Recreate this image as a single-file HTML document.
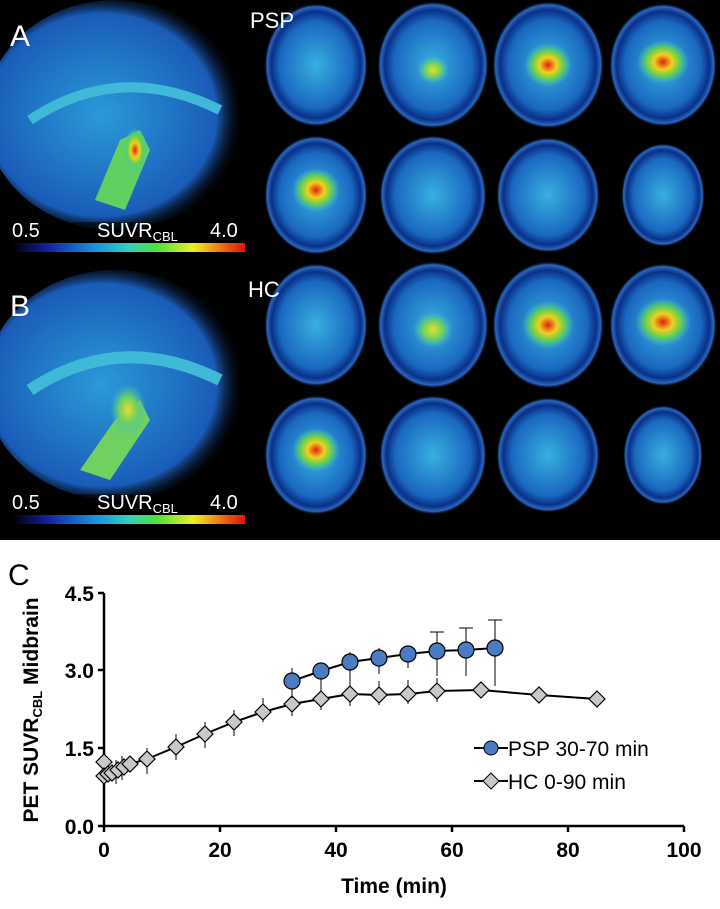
<!DOCTYPE html>
<html><head><meta charset="utf-8"><style>
html,body{margin:0;padding:0;background:#fff}
svg{display:block}
text{font-family:"Liberation Sans",Arial,sans-serif}
</style></head><body>
<svg width="720" height="909" viewBox="0 0 720 909" xmlns="http://www.w3.org/2000/svg">
<defs>
<linearGradient id="cb" x1="0" x2="1" y1="0" y2="0">
<stop offset="0" stop-color="#000"/><stop offset="0.15" stop-color="#1020a0"/><stop offset="0.35" stop-color="#1a8ee0"/><stop offset="0.5" stop-color="#30d0c0"/><stop offset="0.62" stop-color="#50e040"/><stop offset="0.78" stop-color="#f0f020"/><stop offset="0.9" stop-color="#f07010"/><stop offset="1" stop-color="#e01010"/>
</linearGradient>
<radialGradient id="ax" cx="0.5" cy="0.5" r="0.5">
<stop offset="0" stop-color="#38b0e0"/><stop offset="0.7" stop-color="#1a68c0"/><stop offset="0.86" stop-color="#0a3088"/><stop offset="0.94" stop-color="#2a68c0"/><stop offset="1" stop-color="#000" stop-opacity="0"/>
</radialGradient>
<radialGradient id="hot" cx="0.5" cy="0.5" r="0.5">
<stop offset="0" stop-color="#e02010"/><stop offset="0.35" stop-color="#f0d020"/><stop offset="0.65" stop-color="#60d050"/><stop offset="1" stop-color="#40c0d0" stop-opacity="0"/>
</radialGradient>
<radialGradient id="warm" cx="0.5" cy="0.5" r="0.5">
<stop offset="0" stop-color="#e0e030"/><stop offset="0.5" stop-color="#70d060"/><stop offset="1" stop-color="#40c0d0" stop-opacity="0"/>
</radialGradient>
<radialGradient id="sag" cx="0.45" cy="0.5" r="0.55">
<stop offset="0" stop-color="#2a9ad8"/><stop offset="0.8" stop-color="#1a5cb8"/><stop offset="1" stop-color="#000" stop-opacity="0"/>
</radialGradient>
</defs>
<rect x="0" y="0" width="720" height="540" fill="#000"/>
<!-- sagittal A -->
<ellipse cx="115" cy="115" rx="130" ry="115" fill="url(#sag)"/>
<path d="M95 200 L120 140 L140 130 L150 150 L125 210 Z" fill="#60d060"/>
<ellipse cx="135" cy="150" rx="12" ry="22" fill="url(#hot)"/>
<path d="M30 120 Q120 60 220 110" stroke="#40b8d8" stroke-width="10" fill="none"/>
<!-- sagittal B -->
<ellipse cx="115" cy="385" rx="130" ry="115" fill="url(#sag)"/>
<path d="M80 470 L115 420 L140 400 L150 420 L110 480 Z" fill="#70d060"/>
<ellipse cx="128" cy="410" rx="18" ry="26" fill="url(#warm)"/>
<path d="M30 390 Q120 330 220 380" stroke="#40b8d8" stroke-width="12" fill="none"/>
<!-- axial slices -->
<g>
<ellipse cx="316" cy="65" rx="52" ry="62" fill="url(#ax)"/>
<ellipse cx="433" cy="65" rx="56" ry="64" fill="url(#ax)"/><ellipse cx="433" cy="70" rx="16" ry="14" fill="url(#warm)"/>
<ellipse cx="548" cy="65" rx="56" ry="64" fill="url(#ax)"/><ellipse cx="548" cy="65" rx="24" ry="22" fill="url(#hot)"/>
<ellipse cx="663" cy="65" rx="54" ry="62" fill="url(#ax)"/><ellipse cx="663" cy="62" rx="26" ry="22" fill="url(#hot)"/>
<ellipse cx="316" cy="195" rx="52" ry="60" fill="url(#ax)"/><ellipse cx="316" cy="190" rx="24" ry="22" fill="url(#hot)"/>
<ellipse cx="433" cy="195" rx="54" ry="60" fill="url(#ax)"/>
<ellipse cx="548" cy="195" rx="52" ry="58" fill="url(#ax)"/>
<ellipse cx="663" cy="195" rx="42" ry="52" fill="url(#ax)"/>
<ellipse cx="316" cy="325" rx="52" ry="62" fill="url(#ax)"/>
<ellipse cx="433" cy="325" rx="56" ry="64" fill="url(#ax)"/><ellipse cx="433" cy="330" rx="20" ry="18" fill="url(#warm)"/>
<ellipse cx="548" cy="325" rx="56" ry="64" fill="url(#ax)"/><ellipse cx="548" cy="325" rx="26" ry="24" fill="url(#hot)"/>
<ellipse cx="663" cy="325" rx="54" ry="62" fill="url(#ax)"/><ellipse cx="663" cy="322" rx="28" ry="24" fill="url(#hot)"/>
<ellipse cx="316" cy="455" rx="52" ry="60" fill="url(#ax)"/><ellipse cx="316" cy="450" rx="24" ry="22" fill="url(#hot)"/>
<ellipse cx="433" cy="455" rx="54" ry="60" fill="url(#ax)"/>
<ellipse cx="548" cy="455" rx="52" ry="58" fill="url(#ax)"/>
<ellipse cx="663" cy="455" rx="40" ry="50" fill="url(#ax)"/>
</g>
<!-- colorbars -->
<rect x="0" y="222" width="255" height="40" fill="#000" opacity="0.55"/>
<rect x="0" y="494" width="255" height="40" fill="#000" opacity="0.55"/>
<rect x="12" y="243" width="233" height="9" fill="url(#cb)"/>
<rect x="12" y="515" width="233" height="9" fill="url(#cb)"/>
<g fill="#fff" font-size="20">
<text x="10" y="46" font-size="30">A</text>
<text x="250" y="28" font-size="22">PSP</text>
<text x="10" y="316" font-size="30">B</text>
<text x="248" y="297" font-size="22">HC</text>
<text x="12" y="237">0.5</text><text x="210" y="237">4.0</text>
<text x="97" y="237">SUVR<tspan font-size="13" dy="4">CBL</tspan></text>
<text x="12" y="509">0.5</text><text x="210" y="509">4.0</text>
<text x="97" y="509">SUVR<tspan font-size="13" dy="4">CBL</tspan></text>
</g>
<!-- chart -->
<text x="8" y="585" font-size="30" fill="#000">C</text>
<g stroke="#000" stroke-width="2.5" fill="none">
<line x1="104" y1="593" x2="104" y2="826"/>
<line x1="104" y1="826" x2="684" y2="826"/>
<line x1="98" y1="593" x2="104" y2="593"/><line x1="98" y1="670" x2="104" y2="670"/><line x1="98" y1="748" x2="104" y2="748"/><line x1="98" y1="826" x2="104" y2="826"/>
<line x1="104" y1="826" x2="104" y2="832"/><line x1="220" y1="826" x2="220" y2="832"/><line x1="336" y1="826" x2="336" y2="832"/><line x1="452" y1="826" x2="452" y2="832"/><line x1="568" y1="826" x2="568" y2="832"/><line x1="684" y1="826" x2="684" y2="832"/>
</g>
<g font-size="21" font-weight="bold" text-anchor="end" fill="#000">
<text x="94" y="601">4.5</text><text x="94" y="678">3.0</text><text x="94" y="756">1.5</text><text x="94" y="834">0.0</text>
</g>
<g font-size="21" font-weight="bold" text-anchor="middle" fill="#000">
<text x="104" y="857">0</text><text x="220" y="857">20</text><text x="336" y="857">40</text><text x="452" y="857">60</text><text x="568" y="857">80</text><text x="684" y="857">100</text>
<text x="394" y="893">Time (min)</text>
</g>
<text transform="translate(38,710) rotate(-90)" text-anchor="middle" font-size="21" font-weight="bold">PET SUVR<tspan font-size="13" dy="4">CBL</tspan><tspan dy="-4"> Midbrain</tspan></text>
<!-- HC series -->
<g stroke="#000" stroke-width="1">
<line x1="104" y1="756" x2="104" y2="796"/><line x1="116" y1="760" x2="116" y2="784"/><line x1="122" y1="756" x2="122" y2="780"/>
<line x1="147" y1="748" x2="147" y2="774"/><line x1="176" y1="734" x2="176" y2="760"/><line x1="205" y1="722" x2="205" y2="748"/>
<line x1="234" y1="710" x2="234" y2="736"/><line x1="263" y1="698" x2="263" y2="722"/><line x1="292" y1="690" x2="292" y2="716"/>
<line x1="321" y1="684" x2="321" y2="710"/><line x1="350" y1="680" x2="350" y2="706"/><line x1="379" y1="681" x2="379" y2="705"/>
<line x1="408" y1="680" x2="408" y2="704"/><line x1="437" y1="678" x2="437" y2="702"/>
</g>
<polyline fill="none" stroke="#000" stroke-width="2" points="104,764 107,777 110,775 113,774 116,772 120,770 124,767 130,764 147,759 176,747 205,734 234,722 263,712 292,704 321,699 350,694 379,695 408,694 437,691 481,690 539,695 597,699"/>
<g fill="#c8c8c8" stroke="#000" stroke-width="1.2">
<path d="M104,754 l8,8 -8,8 -8,-8z"/>
<path d="M104,768 l8,8 -8,8 -8,-8z"/><path d="M108,766 l8,8 -8,8 -8,-8z"/><path d="M112,765 l8,8 -8,8 -8,-8z"/>
<path d="M118,762 l8,8 -8,8 -8,-8z"/><path d="M124,759 l8,8 -8,8 -8,-8z"/><path d="M130,756 l8,8 -8,8 -8,-8z"/>
<path d="M147,751 l8,8 -8,8 -8,-8z"/><path d="M176,739 l8,8 -8,8 -8,-8z"/><path d="M205,726 l8,8 -8,8 -8,-8z"/>
<path d="M234,714 l8,8 -8,8 -8,-8z"/><path d="M263,704 l8,8 -8,8 -8,-8z"/><path d="M292,696 l8,8 -8,8 -8,-8z"/>
<path d="M321,691 l8,8 -8,8 -8,-8z"/><path d="M350,686 l8,8 -8,8 -8,-8z"/><path d="M379,687 l8,8 -8,8 -8,-8z"/>
<path d="M408,686 l8,8 -8,8 -8,-8z"/><path d="M437,683 l8,8 -8,8 -8,-8z"/><path d="M481,682 l8,8 -8,8 -8,-8z"/>
<path d="M539,687 l8,8 -8,8 -8,-8z"/><path d="M597,691 l8,8 -8,8 -8,-8z"/>
</g>
<!-- PSP series -->
<g stroke="#000" stroke-width="1">
<line x1="292" y1="668" x2="292" y2="698"/><line x1="321" y1="664" x2="321" y2="684"/><line x1="350" y1="652" x2="350" y2="680"/>
<line x1="379" y1="648" x2="379" y2="674"/><line x1="408" y1="646" x2="408" y2="668"/><line x1="437" y1="632" x2="437" y2="676"/>
<line x1="466" y1="628" x2="466" y2="676"/><line x1="495" y1="620" x2="495" y2="686"/>
<line x1="488" y1="620" x2="502" y2="620"/><line x1="459" y1="628" x2="473" y2="628"/><line x1="430" y1="632" x2="444" y2="632"/>
</g>
<polyline fill="none" stroke="#000" stroke-width="2" points="292,681 321,671 350,662 379,658 408,654 437,651 466,650 495,648"/>
<g fill="#4a7cc4" stroke="#000" stroke-width="1.2">
<circle cx="292" cy="681" r="8"/><circle cx="321" cy="671" r="8"/><circle cx="350" cy="662" r="8"/><circle cx="379" cy="658" r="8"/>
<circle cx="408" cy="654" r="8"/><circle cx="437" cy="651" r="8"/><circle cx="466" cy="650" r="8"/><circle cx="495" cy="648" r="8"/>
</g>
<!-- legend -->
<line x1="474" y1="748" x2="508" y2="748" stroke="#000" stroke-width="2"/>
<circle cx="491" cy="748" r="7" fill="#4a7cc4" stroke="#000"/>
<text x="508" y="756" font-size="21">PSP 30-70 min</text>
<line x1="474" y1="781" x2="508" y2="781" stroke="#000" stroke-width="2"/>
<path d="M491,773 l8,8 -8,8 -8,-8z" fill="#c8c8c8" stroke="#000"/>
<text x="508" y="789" font-size="21">HC 0-90 min</text>
</svg>
</body></html>
